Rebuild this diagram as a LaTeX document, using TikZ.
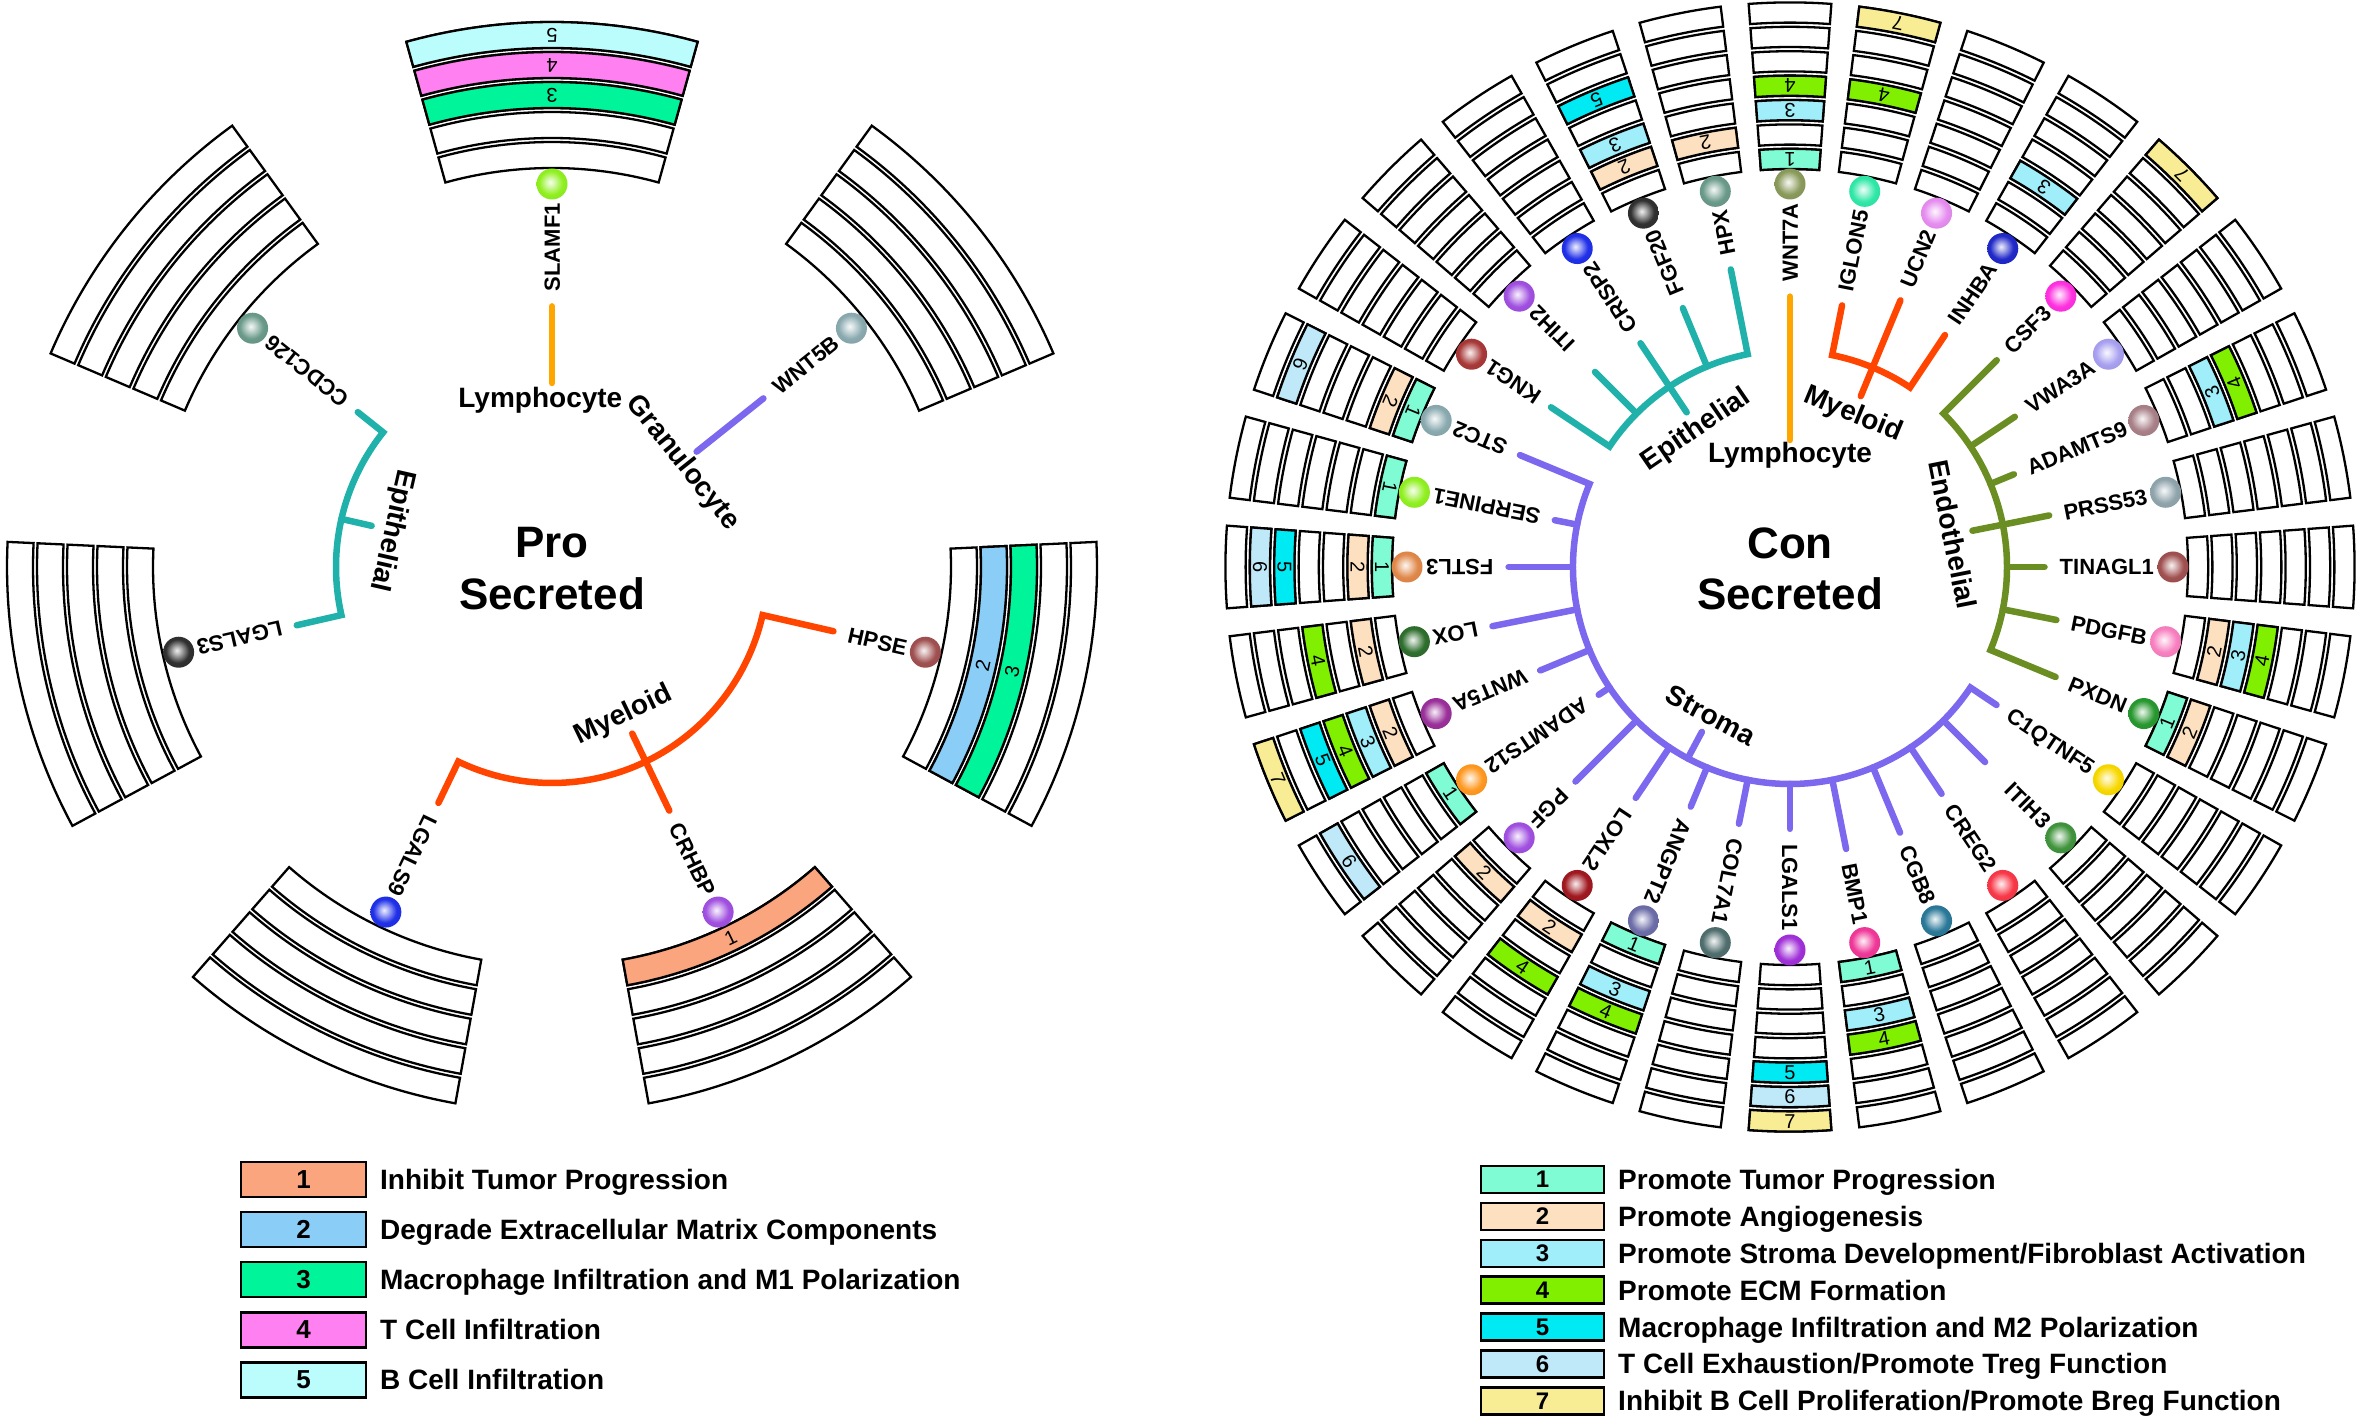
\documentclass[tikz,border=0pt]{standalone}
\usepackage{fontspec}
\setmainfont{Liberation Sans}
\usetikzlibrary{calc}
\makeatletter
\pgfdeclareradialshading[tikz@ball]{softball}{\pgfqpoint{-3bp}{3bp}}{color(0bp)=(tikz@ball!8!white); color(6bp)=(tikz@ball!35!white); color(19bp)=(tikz@ball); color(40bp)=(tikz@ball!90!black); color(50bp)=(tikz@ball!72!black)}
\makeatother
% category colours
\definecolor{lc1}{HTML}{FBA57F}
\definecolor{lc2}{HTML}{8ACEF8}
\definecolor{lc3}{HTML}{00F59A}
\definecolor{lc4}{HTML}{FF80F0}
\definecolor{lc5}{HTML}{BBFDFD}
\definecolor{rc1}{HTML}{80FCD4}
\definecolor{rc2}{HTML}{FCE0C0}
\definecolor{rc3}{HTML}{A0EEFA}
\definecolor{rc4}{HTML}{80F000}
\definecolor{rc5}{HTML}{00EAF4}
\definecolor{rc6}{HTML}{BFE9F8}
\definecolor{rc7}{HTML}{F8EC94}
% tree colours
\definecolor{cLym}{HTML}{FFA500}
\definecolor{cEpi}{HTML}{20B2AA}
\definecolor{cMye}{HTML}{FF4500}
\definecolor{cStr}{HTML}{7B68EE}
\definecolor{cEnd}{HTML}{6B8E23}
% ball colours
\definecolor{bOlive}{HTML}{8A9A5B}
\definecolor{bAqua}{HTML}{30E8A8}
\definecolor{bOrchid}{HTML}{E68CF0}
\definecolor{bNavy}{HTML}{2028C8}
\definecolor{bMagenta}{HTML}{FF30E0}
\definecolor{bLavender}{HTML}{A8A0F0}
\definecolor{bRosy}{HTML}{A88088}
\definecolor{bSlateGrey}{HTML}{90A4AC}
\definecolor{bBrown}{HTML}{A05050}
\definecolor{bPink}{HTML}{F880C0}
\definecolor{bGreen}{HTML}{289830}
\definecolor{bGold}{HTML}{F8D800}
\definecolor{bGreenB}{HTML}{40943C}
\definecolor{bRed}{HTML}{F83848}
\definecolor{bTealBlue}{HTML}{2A7898}
\definecolor{bHotPink}{HTML}{F03898}
\definecolor{bPurple}{HTML}{A030D8}
\definecolor{bDarkSlate}{HTML}{506E6E}
\definecolor{bSlate}{HTML}{6C6CA8}
\definecolor{bDarkRed}{HTML}{A01820}
\definecolor{bPurpleB}{HTML}{A050E0}
\definecolor{bOrange}{HTML}{FF9820}
\definecolor{bPlum}{HTML}{9A309A}
\definecolor{bDarkGreen}{HTML}{2E6E2E}
\definecolor{bCopper}{HTML}{E0884A}
\definecolor{bLime}{HTML}{90F020}
\definecolor{bGreyTeal}{HTML}{8AAAB0}
\definecolor{bMaroon}{HTML}{A83838}
\definecolor{bBlue}{HTML}{2030E8}
\definecolor{bBlack}{HTML}{303030}
\definecolor{bGreyGreen}{HTML}{6A9A8A}

\tikzset{
  tree/.style={line width=6.5pt, line cap=round, line join=miter},
  barline/.style={draw=black, line width=2.3pt, line join=miter},
  genelbl/.style={font=\fontsize{22}{24}\selectfont\bfseries, inner sep=0pt, text height=15.8pt, text depth=0pt},
  grplbl/.style={font=\fontsize{28}{30}\selectfont\bfseries, inner sep=0pt},
  numlbl/.style={font=\fontsize{20}{21}\selectfont, inner sep=0pt},
  ballnode/.style={circle, inner sep=0pt, minimum size=31pt},
  titlelbl/.style={font=\fontsize{44}{48}\selectfont\bfseries, inner sep=0pt},
  lbox/.style={draw=black, line width=2.6pt, minimum width=125pt, minimum height=35pt, inner sep=0pt, font=\fontsize{26}{28}\selectfont\bfseries},
  rbox/.style={draw=black, line width=2.4pt, minimum width=123pt, minimum height=27pt, inner sep=0pt, font=\fontsize{24}{26}\selectfont\bfseries},
  legtxt/.style={font=\fontsize{28}{30}\selectfont\bfseries, inner sep=0pt, anchor=west, text height=20pt, text depth=0pt},
}

% #1 node name, #2 angle, #3 label, #4 ball colour, #5 categories (0 = none)
\newcommand{\gene}[5]{%
  \foreach \kk in {1,...,\nb}{%
    \pgfmathsetmacro\ra{\rin+(\kk-1)*\pitch}%
    \pgfmathsetmacro\rb{\ra+\thick}%
    \pgfmathsetmacro\angA{#2-\halfw}%
    \pgfmathsetmacro\angB{#2+\halfw}%
    \draw[barline] (\angA:\ra) arc[start angle=\angA, end angle=\angB, radius=\ra] -- (\angB:\rb) arc[start angle=\angB, end angle=\angA, radius=\rb] -- cycle;%
  }%
  \foreach \kk in {#5}{%
    \ifnum\kk>0
      \pgfmathsetmacro\ra{\rin+(\kk-1)*\pitch}%
      \pgfmathsetmacro\rb{\ra+\thick}%
      \pgfmathsetmacro\rmid{\ra+\thick/2}%
      \pgfmathsetmacro\angA{#2-\halfw}%
      \pgfmathsetmacro\angB{#2+\halfw}%
      \pgfmathsetmacro\rotn{#2+90}%
      \edef\colname{\catpre\kk}%
      \draw[barline, fill=\colname] (\angA:\ra) arc[start angle=\angA, end angle=\angB, radius=\ra] -- (\angB:\rb) arc[start angle=\angB, end angle=\angA, radius=\rb] -- cycle;%
      \node[numlbl, rotate=\rotn] (#1n\kk) at (#2:\rmid) {\kk};%
    \fi
  }%
  \node[ballnode, ball color=#4, shading=softball] (#1b) at (#2:\rball) {};%
  \node[genelbl, rotate=#2, anchor=east] (#1) at (#2:\rlbl) {#3};%
}

\begin{document}
\begin{tikzpicture}[x=1pt,y=1pt]
\useasboundingbox (0,0) rectangle (2362,1419);
\fill[white] (0,0) rectangle (2362,1419);

%================ LEFT : Pro Secreted ================
\begin{scope}[shift={(552,852)}]
\def\nb{5}\def\rin{399}\def\pitch{30}\def\thick{26}\def\halfw{15.5}\def\catpre{lc}\def\rball{383}\def\rlbl{364}
\gene{lSLAMF1}{90}{SLAMF1}{bLime}{3,4,5}
\gene{lWNT5B}{38.57}{WNT5B}{bGreyTeal}{0}
\gene{lCCDC126}{141.43}{CCDC126}{bGreyGreen}{0}
\gene{lLGALS3}{192.86}{LGALS3}{bBlack}{0}
\gene{lHPSE}{-12.86}{HPSE}{bBrown}{2,3}
\gene{lCRHBP}{-64.29}{CRHBP}{bPurpleB}{1}
\gene{lLGALS9}{-115.71}{LGALS9}{bBlue}{0}

\node[titlelbl] (lTitA) at (0,24) {Pro};
\node[titlelbl] (lTitB) at (0,-27) {Secreted};

% Lymphocyte
\coordinate (lLymIn) at (90:184);
\draw[tree, cLym, shorten >=15pt] (lLymIn) -- (lSLAMF1.west);
% Granulocyte
\coordinate (lGraIn) at (38.57:185);
\draw[tree, cStr, shorten >=15pt] (lGraIn) -- (lWNT5B.west);
% Epithelial
\coordinate (lEpA) at (141.43:216);
\coordinate (lEpS) at (167.14:216);
\coordinate (lEpSi) at (167.14:185);
\draw[tree, cEpi, shorten <=15pt, shorten >=15pt] (lCCDC126.west) -- (lEpA) arc[start angle=141.43, end angle=192.86, radius=216] -- (lLGALS3.west);
\draw[tree, cEpi] (lEpS) -- (lEpSi);
% Myeloid
\coordinate (lMyA) at (-12.86:216);
\coordinate (lMyIn) at (-64.29:185);
\draw[tree, cMye, shorten <=15pt, shorten >=15pt] (lHPSE.west) -- (lMyA) arc[start angle=-12.86, end angle=-115.71, radius=216] -- (lLGALS9.west);
\draw[tree, cMye, shorten >=15pt] (lMyIn) -- (lCRHBP.west);

\node[grplbl] (lgLym) at (94:167) {Lymphocyte};
\node[grplbl, rotate=-51.43] (lgGra) at (38.57:167) {Granulocyte};
\node[grplbl, rotate=257.14] (lgEpi) at (167.14:164) {Epithelial};
\node[grplbl, rotate=25.71] (lgMye) at (-64.29:165) {Myeloid};
\end{scope}

%================ RIGHT : Con Secreted ================
\begin{scope}[shift={(1790,852)}]
\def\nb{7}\def\rin{398}\def\pitch{24.4}\def\thick{20.2}\def\halfw{4.2}\def\catpre{rc}\def\rball{383}\def\rlbl{364}
\gene{rWNT7A}{90}{WNT7A}{bOlive}{1,3,4}
\gene{rIGLON5}{78.75}{IGLON5}{bAqua}{4,7}
\gene{rUCN2}{67.5}{UCN2}{bOrchid}{0}
\gene{rINHBA}{56.25}{INHBA}{bNavy}{3}
\gene{rCSF3}{45}{CSF3}{bMagenta}{7}
\gene{rVWA3A}{33.75}{VWA3A}{bLavender}{0}
\gene{rADAMTS9}{22.5}{ADAMTS9}{bRosy}{3,4}
\gene{rPRSS53}{11.25}{PRSS53}{bSlateGrey}{0}
\gene{rTINAGL1}{0}{TINAGL1}{bBrown}{0}
\gene{rPDGFB}{-11.25}{PDGFB}{bPink}{2,3,4}
\gene{rPXDN}{-22.5}{PXDN}{bGreen}{1,2}
\gene{rC1QTNF5}{-33.75}{C1QTNF5}{bGold}{0}
\gene{rITIH3}{-45}{ITIH3}{bGreenB}{0}
\gene{rCREG2}{-56.25}{CREG2}{bRed}{0}
\gene{rCGB8}{-67.5}{CGB8}{bTealBlue}{0}
\gene{rBMP1}{-78.75}{BMP1}{bHotPink}{1,3,4}
\gene{rLGALS1}{-90}{LGALS1}{bPurple}{5,6,7}
\gene{rCOL7A1}{-101.25}{COL7A1}{bDarkSlate}{0}
\gene{rANGPT2}{-112.5}{ANGPT2}{bSlate}{1,3,4}
\gene{rLOXL2}{-123.75}{LOXL2}{bDarkRed}{2,4}
\gene{rPGF}{-135}{PGF}{bPurpleB}{2}
\gene{rADAMTS12}{-146.25}{ADAMTS12}{bOrange}{1,6}
\gene{rWNT5A}{-157.5}{WNT5A}{bPlum}{2,3,4,5,7}
\gene{rLOX}{-168.75}{LOX}{bDarkGreen}{2,4}
\gene{rFSTL3}{180}{FSTL3}{bCopper}{1,2,5,6}
\gene{rSERPINE1}{168.75}{SERPINE1}{bLime}{1}
\gene{rSTC2}{157.5}{STC2}{bGreyTeal}{1,2,6}
\gene{rKNG1}{146.25}{KNG1}{bMaroon}{0}
\gene{rITIH2}{135}{ITIH2}{bPurpleB}{0}
\gene{rCRISP2}{123.75}{CRISP2}{bBlue}{0}
\gene{rFGF20}{112.5}{FGF20}{bBlack}{2,3,5}
\gene{rHPX}{101.25}{HPX}{bGreyGreen}{2}

\node[titlelbl] (rTitA) at (0,24) {Con};
\node[titlelbl] (rTitB) at (0,-27) {Secreted};

% Lymphocyte
\coordinate (rLymIn) at (90:127);
\draw[tree, cLym, shorten >=15pt] (rLymIn) -- (rWNT7A.west);
% Epithelial
\coordinate (rEpA) at (101.25:217);
\draw[tree, cEpi, shorten <=15pt, shorten >=15pt] (rHPX.west) -- (rEpA) arc[start angle=101.25, end angle=146.25, radius=217] -- (rKNG1.west);
\coordinate (rEpFGF20) at (112.5:217);
\draw[tree, cEpi, shorten >=15pt] (rEpFGF20) -- (rFGF20.west);
\coordinate (rEpITIH2) at (135:217);
\draw[tree, cEpi, shorten >=34pt] (rEpITIH2) -- (rITIH2.west);
\coordinate (rEpIn) at (123.75:186);
\draw[tree, cEpi, shorten >=15pt] (rEpIn) -- (rCRISP2.west);
% Myeloid
\coordinate (rMyA) at (78.75:216);
\draw[tree, cMye, shorten <=15pt, shorten >=15pt] (rIGLON5.west) -- (rMyA) arc[start angle=78.75, end angle=56.25, radius=216] -- (rINHBA.west);
\coordinate (rMyIn) at (67.5:185);
\draw[tree, cMye, shorten >=15pt] (rMyIn) -- (rUCN2.west);
% Endothelial
\coordinate (rEnA) at (45:217);
\draw[tree, cEnd, shorten <=15pt, shorten >=15pt] (rCSF3.west) -- (rEnA) arc[start angle=45, end angle=-22.5, radius=217] -- (rPXDN.west);
\foreach \g/\a in {VWA3A/33.75, ADAMTS9/22.5, TINAGL1/0, PDGFB/-11.25}{
  \coordinate (rEn\g) at (\a:217);
  \draw[tree, cEnd, shorten >=15pt] (rEn\g) -- (r\g.west);
}
\coordinate (rEnIn) at (11.25:186);
\draw[tree, cEnd, shorten >=15pt] (rEnIn) -- (rPRSS53.west);
% Stroma
\coordinate (rStA) at (157.5:217);
\draw[tree, cStr, shorten <=15pt, shorten >=15pt] (rSTC2.west) -- (rStA) arc[start angle=157.5, end angle=326.25, radius=217] -- (rC1QTNF5.west);
\foreach \g/\a in {SERPINE1/168.75, FSTL3/180, LOX/191.25, WNT5A/202.5, ADAMTS12/213.75, PGF/225, LOXL2/236.25, ANGPT2/247.5, COL7A1/258.75, LGALS1/270, BMP1/281.25, CGB8/292.5, CREG2/303.75}{
  \coordinate (rSt\g) at (\a:217);
  \draw[tree, cStr, shorten >=15pt] (rSt\g) -- (r\g.west);
}
\coordinate (rStITIH3) at (315:217);
\draw[tree, cStr, shorten >=34pt] (rStITIH3) -- (rITIH3.west);
\coordinate (rStS) at (241.875:217);
\coordinate (rStSi) at (241.875:187);
\draw[tree, cStr] (rStS) -- (rStSi);

\node[grplbl] (rgLym) at (90:112) {Lymphocyte};
\node[grplbl, rotate=34.4] (rgEpi) at (124.4:166) {Epithelial};
\node[grplbl, rotate=-22.5] (rgMye) at (67.5:165) {Myeloid};
\node[grplbl, rotate=-78.75] (rgEnd) at (11.25:166) {Endothelial};
\node[grplbl, rotate=-28.125] (rgStr) at (241.875:168) {Stroma};
\end{scope}

%================ LEGENDS ================
\node[lbox, fill=lc1] (ll1) at (303.5,239.5) {1};
\node[legtxt] (llt1) at (380,239.5) {Inhibit Tumor Progression};
\node[lbox, fill=lc2] (ll2) at (303.5,189.4) {2};
\node[legtxt] (llt2) at (380,189.4) {Degrade Extracellular Matrix Components};
\node[lbox, fill=lc3] (ll3) at (303.5,139.3) {3};
\node[legtxt] (llt3) at (380,139.3) {Macrophage Infiltration and M1 Polarization};
\node[lbox, fill=lc4] (ll4) at (303.5,89.2) {4};
\node[legtxt] (llt4) at (380,89.2) {T Cell Infiltration};
\node[lbox, fill=lc5] (ll5) at (303.5,39.1) {5};
\node[legtxt] (llt5) at (380,39.1) {B Cell Infiltration};

\node[rbox, fill=rc1] (rl1) at (1542.5,239.5) {1};
\node[legtxt] (rlt1) at (1618,239.5) {Promote Tumor Progression};
\node[rbox, fill=rc2] (rl2) at (1542.5,202.6) {2};
\node[legtxt] (rlt2) at (1618,202.6) {Promote Angiogenesis};
\node[rbox, fill=rc3] (rl3) at (1542.5,165.7) {3};
\node[legtxt] (rlt3) at (1618,165.7) {Promote Stroma Development/Fibroblast Activation};
\node[rbox, fill=rc4] (rl4) at (1542.5,128.8) {4};
\node[legtxt] (rlt4) at (1618,128.8) {Promote ECM Formation};
\node[rbox, fill=rc5] (rl5) at (1542.5,91.9) {5};
\node[legtxt] (rlt5) at (1618,91.9) {Macrophage Infiltration and M2 Polarization};
\node[rbox, fill=rc6] (rl6) at (1542.5,55.0) {6};
\node[legtxt] (rlt6) at (1618,55.0) {T Cell Exhaustion/Promote Treg Function};
\node[rbox, fill=rc7] (rl7) at (1542.5,18.1) {7};
\node[legtxt] (rlt7) at (1618,18.1) {Inhibit B Cell Proliferation/Promote Breg Function};
\end{tikzpicture}
\end{document}
